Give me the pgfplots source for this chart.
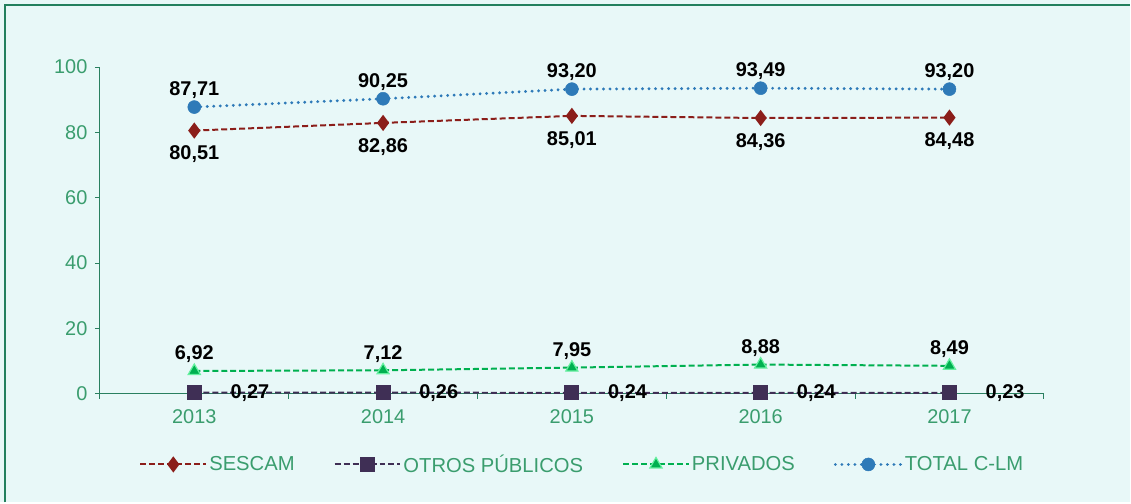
\documentclass[border=0pt]{standalone}
\usepackage{pgfplots}
\pgfplotsset{compat=1.18}
\usepackage{fontspec}
\setmainfont{Liberation Sans}
\definecolor{bg}{HTML}{E8F8F8}
\definecolor{frame}{HTML}{23805E}
\definecolor{tickc}{HTML}{3A9D6E}
\definecolor{axc}{HTML}{2A8060}
\definecolor{sescam}{HTML}{8B1E1A}
\definecolor{otros}{HTML}{3F2F55}
\definecolor{priv}{HTML}{00B050}
\definecolor{privedge}{HTML}{66F0A0}
\definecolor{total}{HTML}{2E7AB8}
\begin{document}
\begin{tikzpicture}
\fill[bg] (0,0) rectangle (1131bp,503bp);
\draw[frame, line width=2.5bp] (5bp,0) -- (5bp,498bp) -- (1131bp,498bp);
\begin{axis}[
  at={(100bp,109bp)}, anchor=south west,
  scale only axis, width=945bp, height=327bp,
  xmin=0, xmax=5, ymin=0, ymax=100,
  axis x line=bottom, axis y line=left,
  axis line style={-, axc, line width=0.8bp},
  xtick={0,1,2,3,4,5}, xticklabels={},
  extra x ticks={0.5,1.5,2.5,3.5,4.5},
  extra x tick labels={2013,2014,2015,2016,2017},
  extra x tick style={major tick length=0pt},
  ytick={0,20,40,60,80,100},
  tick style={axc, line width=0.8bp},
  major tick length=5bp,
  tick align=outside,
  font=\fontsize{20}{23}\selectfont,
  tick label style={tickc, font=\fontsize{20}{23}\selectfont},
  xticklabel style={yshift=-13bp},
  yticklabel style={xshift=-4bp},
  /pgf/number format/assume math mode=true,
  clip=false,
  nodes near coords={\pgfmathprintnumber[use comma,fixed,fixed zerofill,precision=2]{\pgfplotspointmeta}},
  nodes near coords style={font=\bfseries\fontsize{20}{23}\selectfont, text=black},
  legend columns=4,
  legend style={at={(0.511,-0.217)}, anchor=center, draw=none, fill=none,
    font=\fontsize{20.3}{23}\selectfont, text=tickc,
    /tikz/every even column/.append style={column sep=37bp}},
  legend cell align=left,
  legend image code/.code={
    \draw[#1, mark repeat=2, mark phase=2] plot coordinates {(0bp,0bp) (33bp,0bp) (66bp,0bp)};
  },
]
\addplot[sescam, line width=2bp, dash pattern=on 6bp off 3bp, mark=diamond*, mark size=6.5bp,
  mark options={solid, fill=sescam, draw=sescam},
  nodes near coords align={below}, every node near coord/.append style={yshift=-11bp}]
  coordinates {(0.5,80.51) (1.5,82.86) (2.5,85.01) (3.5,84.36) (4.5,84.48)};
\addlegendentry{SESCAM}
\addplot[otros, line width=2bp, dash pattern=on 6bp off 3bp, mark=square*, mark size=6.5bp,
  mark options={solid, fill=otros, draw=otros},
  nodes near coords align={right}, every node near coord/.append style={xshift=32bp}]
  coordinates {(0.5,0.27) (1.5,0.26) (2.5,0.24) (3.5,0.24) (4.5,0.23)};
\addlegendentry{OTROS PÚBLICOS}
\addplot[priv, line width=2bp, dash pattern=on 6bp off 3bp, mark=triangle*, mark size=7bp,
  mark options={solid, fill=priv, draw=privedge, line width=1.2bp},
  nodes near coords align={above}, every node near coord/.append style={yshift=4bp}]
  coordinates {(0.5,6.92) (1.5,7.12) (2.5,7.95) (3.5,8.88) (4.5,8.49)};
\addlegendentry{PRIVADOS}
\addplot[total, line width=3.2bp, line cap=round, dash pattern=on 0.01bp off 6.5bp, mark=*, mark size=6.5bp,
  mark options={solid, fill=total, draw=total, line width=0.5bp},
  nodes near coords align={above}, every node near coord/.append style={yshift=5bp}]
  coordinates {(0.5,87.71) (1.5,90.25) (2.5,93.20) (3.5,93.49) (4.5,93.20)};
\addlegendentry{TOTAL C-LM}
\end{axis}
\end{tikzpicture}
\end{document}
